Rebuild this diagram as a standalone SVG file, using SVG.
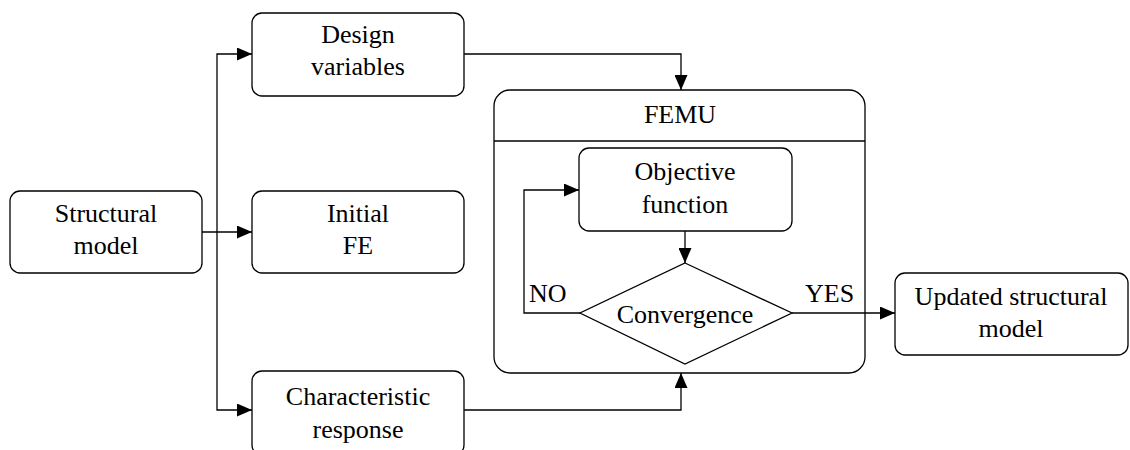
<svg xmlns="http://www.w3.org/2000/svg" width="1130" height="450" viewBox="0 0 1130 450">
<defs>
<marker id="arr" markerWidth="15" markerHeight="13" refX="15" refY="6.5" orient="auto" markerUnits="userSpaceOnUse">
<path d="M0,0 L15,6.5 L0,13 Z" fill="#000"/>
</marker>
</defs>
<style>
.box{fill:#fff;stroke:#000;stroke-width:1.3}
text{font-family:'Liberation Serif','Times New Roman',Tinos,'DejaVu Serif',serif;font-size:26px;fill:#000}
.t{text-anchor:middle}
.c{fill:none;stroke:#000;stroke-width:1.3}
</style>
<rect width="1130" height="450" fill="#fff"/>
<g id="structural-model">
<rect class="box" x="10" y="191" width="192" height="82" rx="10"/>
<text class="t" x="106" y="222">Structural</text>
<text class="t" x="106" y="254">model</text>
</g>
<g id="design-variables">
<rect class="box" x="252" y="13" width="212" height="83" rx="10"/>
<text class="t" x="358" y="43">Design</text>
<text class="t" x="358" y="75">variables</text>
</g>
<g id="initial-fe">
<rect class="box" x="252" y="191" width="212" height="82" rx="10"/>
<text class="t" x="358" y="222">Initial</text>
<text class="t" x="358" y="254">FE</text>
</g>
<g id="characteristic-response">
<rect class="box" x="252" y="371" width="212" height="84" rx="10"/>
<text class="t" x="358" y="405">Characteristic</text>
<text class="t" x="358" y="438">response</text>
</g>
<g id="femu">
<rect class="box" x="494" y="90" width="371" height="283" rx="16"/>
<line class="c" x1="494" y1="141" x2="865" y2="141"/>
<text class="t" x="680" y="123">FEMU</text>
</g>
<g id="objective-function">
<rect class="box" x="579" y="148" width="213" height="83" rx="10"/>
<text class="t" x="685" y="180">Objective</text>
<text class="t" x="685" y="213">function</text>
</g>
<g id="convergence">
<polygon class="box" points="685,263 792,313 685,364 580,313"/>
<text class="t" x="685" y="323">Convergence</text>
</g>
<g id="updated-structural-model">
<rect class="box" x="895" y="273" width="233" height="82" rx="10"/>
<text class="t" x="1011" y="305">Updated structural</text>
<text class="t" x="1011" y="337">model</text>
</g>
<g id="connectors">
<polyline class="c" points="202,232 252,232" marker-end="url(#arr)"/>
<polyline class="c" points="217,232 217,54 252,54" marker-end="url(#arr)"/>
<polyline class="c" points="217,232 217,410 252,410" marker-end="url(#arr)"/>
<polyline class="c" points="464,54 681,54 681,90" marker-end="url(#arr)"/>
<polyline class="c" points="464,410 681,410 681,373" marker-end="url(#arr)"/>
<polyline class="c" points="685,231 685,263" marker-end="url(#arr)"/>
<polyline class="c" points="580,313 524,313 524,190 579,190" marker-end="url(#arr)"/>
<polyline class="c" points="792,313 895,313" marker-end="url(#arr)"/>
<text x="529" y="302">NO</text>
<text x="805" y="302">YES</text>
</g>
</svg>
